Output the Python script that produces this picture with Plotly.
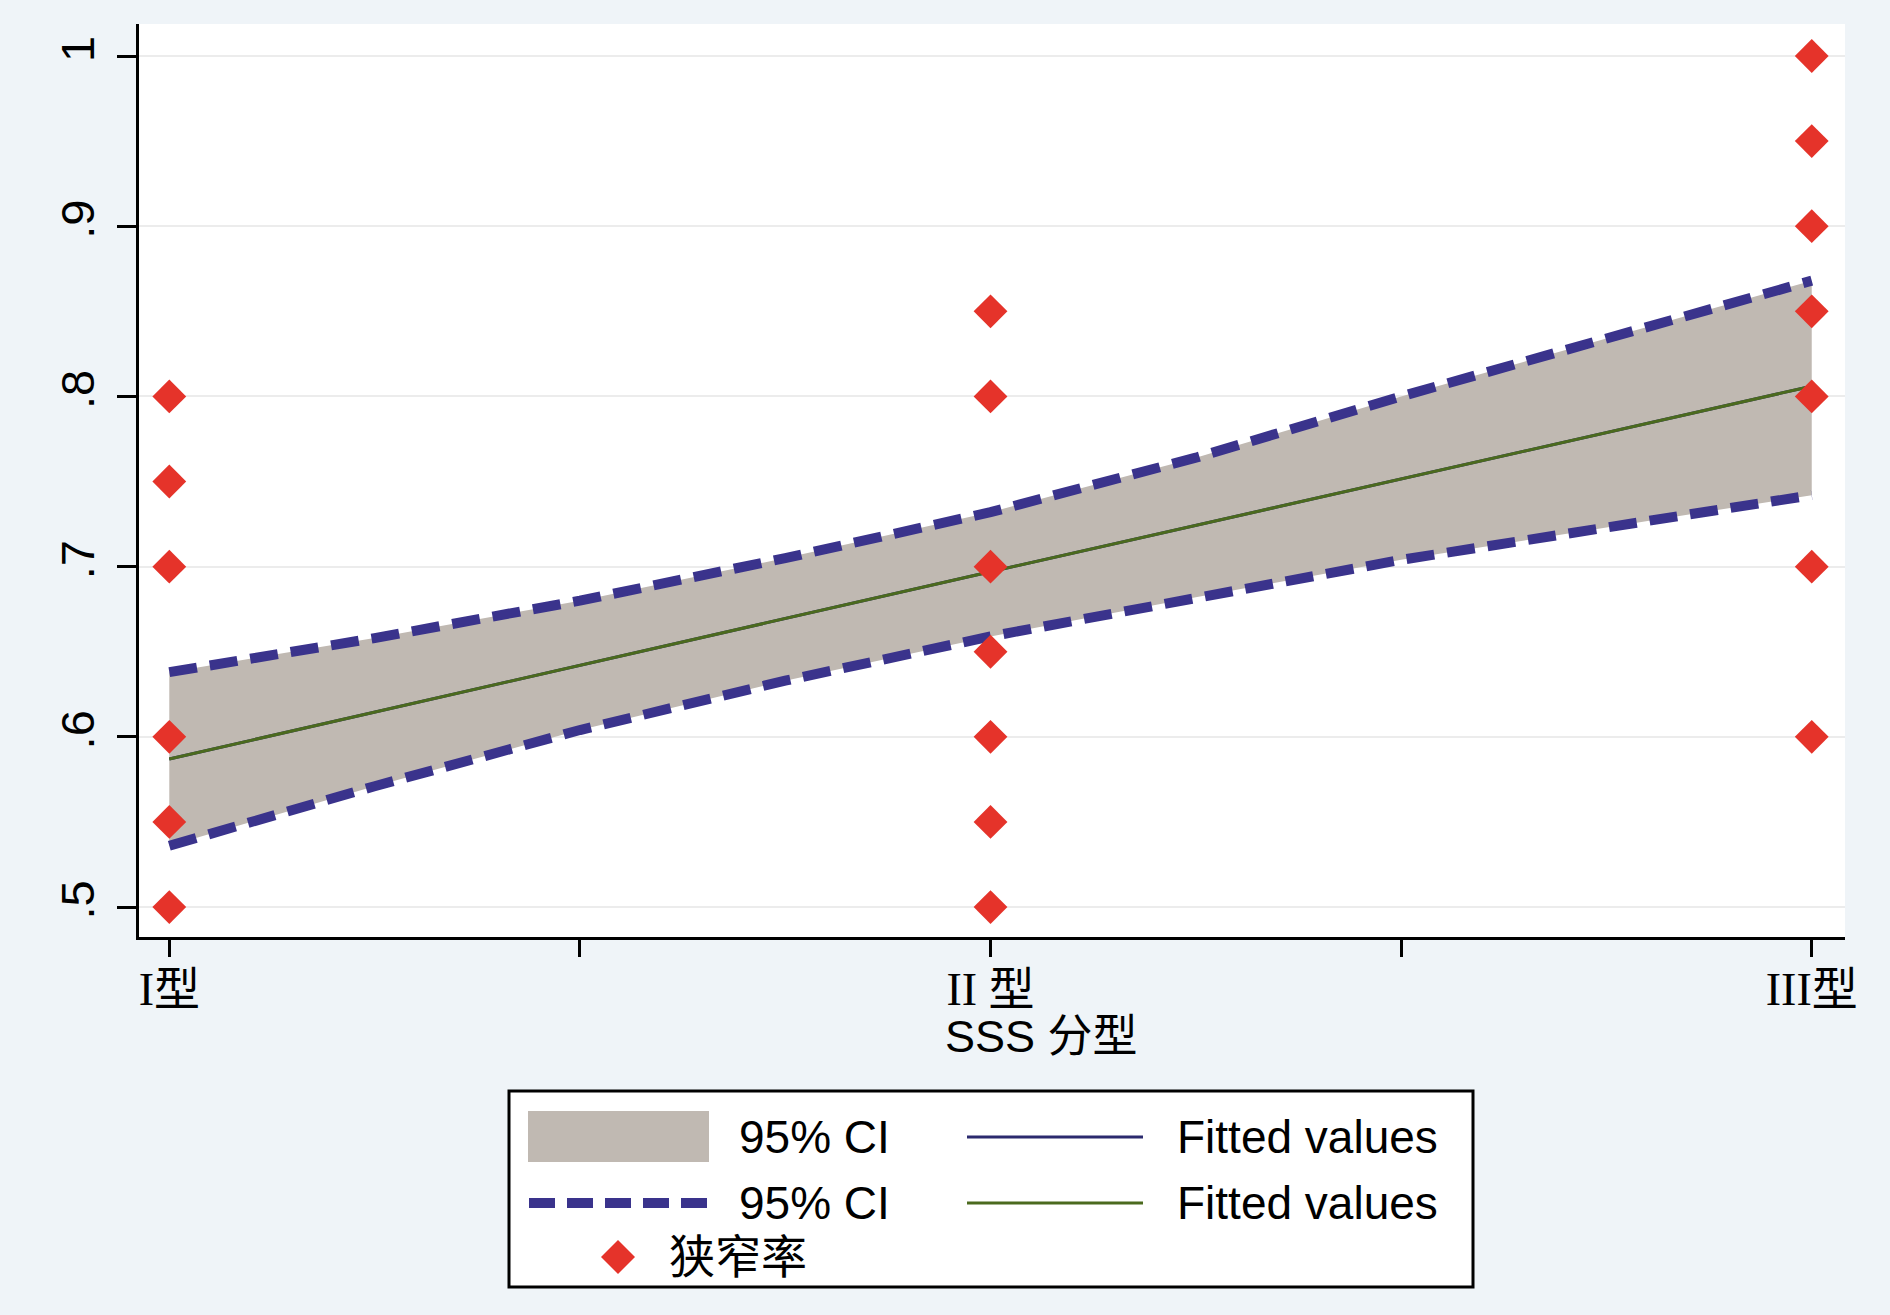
import plotly.graph_objects as go

# ---------------- data ----------------
cat_labels = ["I型", "", "II 型", "", "III型"]
cat_ticks = [1, 1.5, 2, 2.5, 3]
y_ticks = [0.5, 0.6, 0.7, 0.8, 0.9, 1.0]
y_ticktext = [".5", ".6", ".7", ".8", ".9", "1"]

# 狭窄率 observations per SSS type
pts_I = [0.80, 0.75, 0.70, 0.60, 0.55, 0.50]
pts_II = [0.85, 0.80, 0.70, 0.65, 0.60, 0.55, 0.50]
pts_III = [1.00, 0.95, 0.90, 0.85, 0.80, 0.70, 0.60]

# fitted values and 95% CI
fit_x = [1, 2, 3]
fit_y = [0.587, 0.697, 0.806]
ci_x = [1, 1.25, 1.5, 1.75, 2, 2.25, 2.5, 2.75, 3]
ci_upper = [0.638, 0.658, 0.680, 0.705, 0.732, 0.764, 0.800, 0.834, 0.868]
ci_lower = [0.536, 0.571, 0.604, 0.633, 0.659, 0.682, 0.704, 0.723, 0.742]

# ---------------- styles ----------------
W, H = 1890, 1315
L, R, T, B = 139, 45, 24, 378
PAPER = "#EFF4F8"
BAND = "#C0B9B2"
DASH = "#3A338C"
NAVY = "#2B2A6E"
GREEN = "#4B6A1E"
RED = "#E5332A"
SANS = "Liberation Sans, Arial, Noto Sans CJK SC"
SERIF = "Liberation Serif, Times New Roman, Noto Sans CJK SC"

fig = go.Figure()

fig.add_trace(go.Scatter(
    x=ci_x + ci_x[::-1], y=ci_upper + ci_lower[::-1],
    fill="toself", fillcolor=BAND, line=dict(width=0),
    mode="lines", name="95% CI", showlegend=False, hoverinfo="skip"))
fig.add_trace(go.Scatter(
    x=ci_x, y=ci_upper, mode="lines", name="95% CI",
    line=dict(color=DASH, width=10, dash="28px,13px"), showlegend=False))
fig.add_trace(go.Scatter(
    x=ci_x, y=ci_lower, mode="lines", name="95% CI",
    line=dict(color=DASH, width=10, dash="28px,13px"), showlegend=False))
fig.add_trace(go.Scatter(
    x=fit_x, y=fit_y, mode="lines", name="Fitted values",
    line=dict(color=NAVY, width=3), showlegend=False))
fig.add_trace(go.Scatter(
    x=fit_x, y=fit_y, mode="lines", name="Fitted values",
    line=dict(color=GREEN, width=3), showlegend=False))

sx = [cat_ticks[0]] * len(pts_I) + [cat_ticks[2]] * len(pts_II) + [cat_ticks[4]] * len(pts_III)
sy = pts_I + pts_II + pts_III
fig.add_trace(go.Scatter(
    x=sx, y=sy, mode="markers", name="狭窄率",
    marker=dict(symbol="diamond", size=26, color=RED, line=dict(width=0)),
    showlegend=False))

# ---------------- layout ----------------
PW = W - L - R
PH = H - T - B


def pxx(p):
    return (p - L) / PW


def pyy(p):
    return (H - B - p) / PH


fig.update_layout(
    width=W, height=H,
    margin=dict(l=L, r=R, t=T, b=B, autoexpand=False),
    paper_bgcolor=PAPER, plot_bgcolor="white",
    showlegend=False,
    xaxis=dict(
        range=[0.9631, 3.0405], tickmode="array", tickvals=cat_ticks, ticktext=cat_labels,
        showgrid=False, zeroline=False, showline=True, linecolor="black", linewidth=3,
        ticks="outside", ticklen=17, tickwidth=3, tickcolor="black",
        tickfont=dict(family=SERIF, size=46, color="black"), automargin=False,
        ticklabelstandoff=-7),
    yaxis=dict(
        range=[0.4824, 1.0188], tickmode="array", tickvals=y_ticks, ticktext=y_ticktext,
        showgrid=True, gridcolor="#ECECEC", gridwidth=2, zeroline=False,
        showline=True, linecolor="black", linewidth=3,
        ticks="outside", ticklen=19, tickwidth=3, tickcolor="black", tickangle=-90,
        tickfont=dict(family=SANS, size=47, color="black"), automargin=False,
        ticklabelstandoff=4),
)

# axis title
fig.add_annotation(
    x=pxx(1041), y=pyy(1036), xref="paper", yref="paper", text="SSS 分型",
    showarrow=False, xanchor="center", yanchor="middle",
    font=dict(family=SANS, size=45, color="black"))

# ---------------- legend (drawn) ----------------
shapes = []
shapes.append(dict(type="rect", xref="paper", yref="paper",
                   x0=pxx(509), x1=pxx(1473), y0=pyy(1287), y1=pyy(1091),
                   line=dict(color="black", width=3), fillcolor="white", layer="above"))
shapes.append(dict(type="rect", xref="paper", yref="paper",
                   x0=pxx(528), x1=pxx(709), y0=pyy(1162), y1=pyy(1111),
                   line=dict(width=0), fillcolor=BAND, layer="above"))
shapes.append(dict(type="line", xref="paper", yref="paper",
                   x0=pxx(529), x1=pxx(709), y0=pyy(1203), y1=pyy(1203),
                   line=dict(color=DASH, width=10, dash="26px,12px"), layer="above"))
shapes.append(dict(type="line", xref="paper", yref="paper",
                   x0=pxx(967), x1=pxx(1143), y0=pyy(1137), y1=pyy(1137),
                   line=dict(color=NAVY, width=3), layer="above"))
shapes.append(dict(type="line", xref="paper", yref="paper",
                   x0=pxx(967), x1=pxx(1143), y0=pyy(1203), y1=pyy(1203),
                   line=dict(color=GREEN, width=3), layer="above"))
cx, cy, d = 618, 1257, 17
path = "M {},{} L {},{} L {},{} L {},{} Z".format(
    pxx(cx - d), pyy(cy), pxx(cx), pyy(cy - d), pxx(cx + d), pyy(cy), pxx(cx), pyy(cy + d))
shapes.append(dict(type="path", xref="paper", yref="paper", path=path,
                   fillcolor=RED, line=dict(width=0), layer="above"))
fig.update_layout(shapes=shapes)

legend_texts = [("95% CI", 737, 1137), ("Fitted values", 1175, 1137),
                ("95% CI", 737, 1203), ("Fitted values", 1175, 1203),
                ("狭窄率", 667, 1257)]
for txt, lx, ly in legend_texts:
    fig.add_annotation(x=pxx(lx), y=pyy(ly), xref="paper", yref="paper", text=txt,
                       showarrow=False, xanchor="left", yanchor="middle",
                       font=dict(family=SANS, size=46, color="black"))

fig.write_html("out.html")
